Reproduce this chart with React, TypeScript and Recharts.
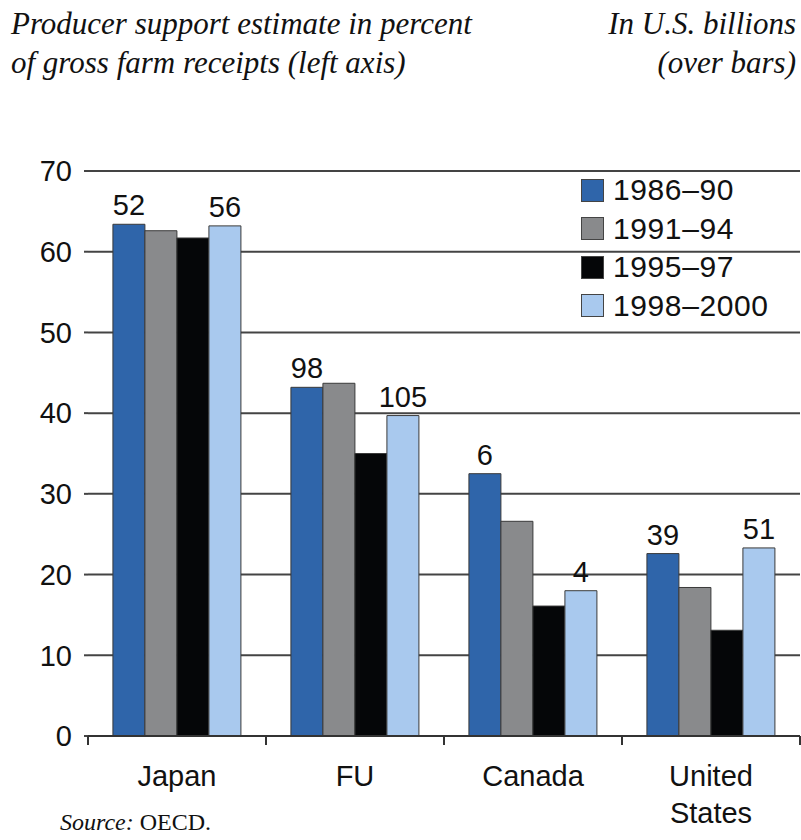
import React from 'react';
import { BarChart, Bar, XAxis, YAxis, CartesianGrid, Legend, LabelList } from 'recharts';

const categories = ['Japan', 'FU', 'Canada', 'United States'];
const seriesNames = ['1986–90', '1991–94', '1995–97', '1998–2000'];
const pse8690 = [63.4, 43.2, 32.5, 22.6];
const pse9194 = [62.6, 43.7, 26.6, 18.4];
const pse9597 = [61.7, 35.0, 16.1, 13.1];
const pse9800 = [63.2, 39.7, 18.0, 23.3];
const billions8690 = [52, 98, 6, 39];
const billions9800 = [56, 105, 4, 51];
const yTicks = [0, 10, 20, 30, 40, 50, 60, 70];

const colors = ['#2f65aa', '#898a8c', '#050608', '#a9c9ee'];
const keys = ['s1', 's2', 's3', 's4'];

const data = categories.map((c, i) => ({
  name: c,
  s1: pse8690[i],
  s2: pse9194[i],
  s3: pse9597[i],
  s4: pse9800[i],
  b1: billions8690[i],
  b4: billions9800[i],
}));

const W = 801;
const H = 840;
const PLOT_LEFT = 88;
const PLOT_RIGHT = 800;
const PLOT_TOP = 171;
const PLOT_BOTTOM = 736;
const STEP = (PLOT_RIGHT - PLOT_LEFT) / categories.length;
const FONT = '"Liberation Sans", Arial, sans-serif';
const SERIF = '"Liberation Serif", "Times New Roman", serif';

const CategoryTick = (props: any) => {
  const { x, y, payload, index } = props;
  const lines = String(payload.value).split(' ');
  const last = index === categories.length - 1;
  return (
    <g>
      <line x1={x - STEP / 2} x2={x - STEP / 2} y1={y} y2={y + 9} stroke="#333" strokeWidth={2} />
      {last && <line x1={x + STEP / 2} x2={x + STEP / 2} y1={y} y2={y + 9} stroke="#333" strokeWidth={2} />}
      <text x={x} y={y + 50} textAnchor="middle" fontSize={29} fontFamily={FONT} fill="#111">
        {lines.map((l, i) => (
          <tspan key={i} x={x} dy={i === 0 ? 0 : 37}>
            {l}
          </tspan>
        ))}
      </text>
    </g>
  );
};

const renderLegend = () => (
  <div style={{ fontFamily: FONT, fontSize: 30, color: '#111', letterSpacing: 0.6 }}>
    {seriesNames.map((n, i) => (
      <div key={n} style={{ display: 'flex', alignItems: 'center', height: 38.5 }}>
        <div
          style={{
            width: 21,
            height: 21,
            background: colors[i],
            border: '1px solid #444',
            marginRight: 9,
          }}
        />
        <span>{n}</span>
      </div>
    ))}
  </div>
);

export default function App() {
  return (
    <div style={{ position: 'absolute', left: 0, top: 0, width: W, height: H, background: '#fff', overflow: 'hidden' }}>
      <div
        style={{
          position: 'absolute',
          left: 11,
          top: 4,
          fontFamily: SERIF,
          fontStyle: 'italic',
          fontSize: 31,
          lineHeight: '39px',
          color: '#111',
          whiteSpace: 'nowrap',
        }}
      >
        Producer support estimate in percent
        <br />
        of gross farm receipts (left axis)
      </div>
      <div
        style={{
          position: 'absolute',
          right: 5,
          top: 4,
          textAlign: 'right',
          fontFamily: SERIF,
          fontStyle: 'italic',
          fontSize: 31,
          lineHeight: '39px',
          color: '#111',
          whiteSpace: 'nowrap',
        }}
      >
        In U.S. billions
        <br />
        (over bars)
      </div>
      <BarChart
        width={W}
        height={H}
        data={data}
        margin={{ top: PLOT_TOP, right: W - PLOT_RIGHT, bottom: 0, left: 0 }}
        barCategoryGap="14%"
        barGap={0}
      >
        <CartesianGrid vertical={false} stroke="#444" strokeWidth={2} />
        <XAxis
          dataKey="name"
          height={H - PLOT_BOTTOM}
          axisLine={{ stroke: '#333', strokeWidth: 2 }}
          tickLine={false}
          tickSize={0}
          tickMargin={0}
          interval={0}
          tick={<CategoryTick />}
        />
        <YAxis
          width={PLOT_LEFT}
          domain={[0, 70]}
          ticks={yTicks}
          axisLine={false}
          tickLine={{ stroke: '#444', strokeWidth: 2 }}
          tickSize={4}
          tickMargin={12}
          tick={{ fontSize: 29, fontFamily: FONT, fill: '#111' }}
        />
        <Legend
          layout="vertical"
          verticalAlign="middle"
          align="center"
          content={renderLegend}
          wrapperStyle={{ position: 'absolute', left: 581, top: 171, width: 220 }}
        />
        {keys.map((k, i) => (
          <Bar
            key={k}
            dataKey={k}
            name={seriesNames[i]}
            fill={colors[i]}
            stroke="#3a3a3a"
            strokeWidth={1}
            isAnimationActive={false}
          >
            {i === 0 && (
              <LabelList dataKey="b1" position="top" offset={9} fontSize={29} fontFamily={FONT} fill="#111" />
            )}
            {i === 3 && (
              <LabelList dataKey="b4" position="top" offset={9} fontSize={29} fontFamily={FONT} fill="#111" />
            )}
          </Bar>
        ))}
      </BarChart>
      <div
        style={{
          position: 'absolute',
          left: 60,
          top: 808,
          fontFamily: SERIF,
          fontSize: 24,
          lineHeight: '28px',
          color: '#111',
          whiteSpace: 'nowrap',
        }}
      >
        <i>Source:</i> OECD.
      </div>
    </div>
  );
}
